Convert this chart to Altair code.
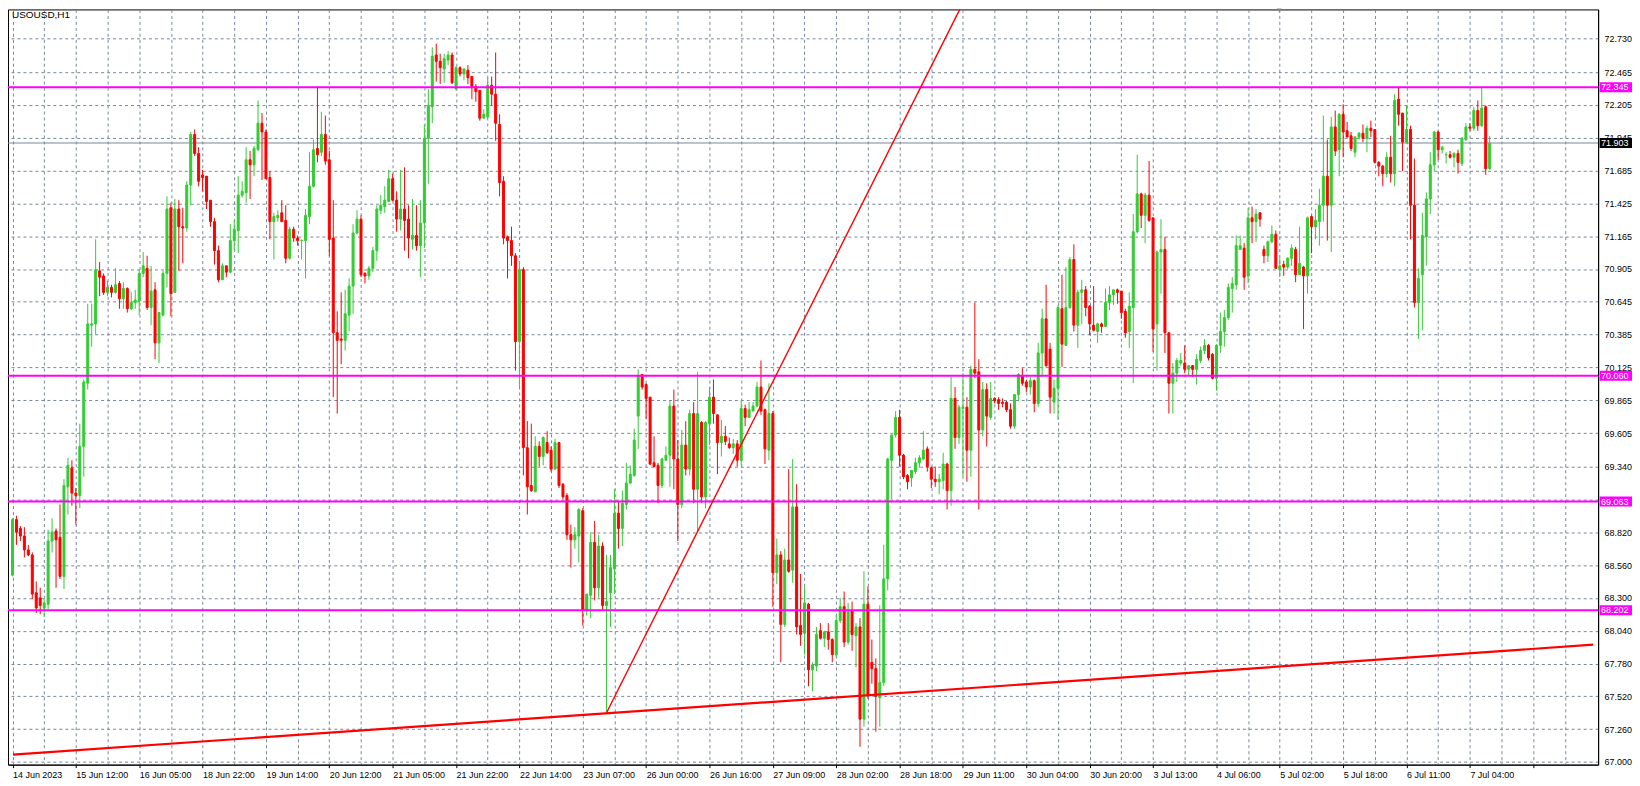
import json
import altair as alt
import pandas as pd

# ---------------- data (USOUSD, H1) ----------------
opens = [
68.48,68.92,68.85,68.79,68.68,68.64,68.34,68.30,68.22,68.25,
68.75,68.83,68.78,68.47,69.18,69.33,69.13,69.11,69.50,70.00,
70.46,70.47,70.89,70.85,70.72,70.76,70.72,70.79,70.67,70.75,
70.59,70.64,70.65,70.87,70.91,70.60,70.74,70.32,70.54,70.87,
71.39,70.72,71.38,71.24,71.23,71.57,71.97,71.82,71.65,71.64,
71.45,71.28,71.05,70.82,70.93,70.88,71.13,71.21,71.49,71.51,
71.77,71.73,71.85,72.06,71.99,71.63,71.28,71.31,71.35,71.29,
70.99,71.22,71.15,71.13,71.13,71.32,71.56,71.86,71.83,71.97,
71.77,71.15,70.40,70.35,70.34,70.54,70.77,71.19,71.30,70.87,
70.85,70.91,71.05,71.37,71.40,71.44,71.62,71.45,71.30,71.38,
71.30,71.14,71.17,71.09,71.27,71.94,72.19,72.60,72.55,72.49,
72.56,72.60,72.33,72.50,72.45,72.48,72.43,72.35,72.32,72.10,
72.11,72.36,72.29,72.05,71.60,71.16,71.13,71.01,70.33,70.90,
69.49,69.19,69.14,69.50,69.42,69.53,69.47,69.32,69.53,69.20,
69.11,68.80,68.76,68.79,68.99,68.20,68.32,68.74,68.38,68.71,
68.24,68.34,68.53,68.97,68.85,69.04,69.21,69.27,69.74,70.07,
69.99,69.89,69.37,69.35,69.19,69.39,69.43,69.82,69.40,69.04,
69.51,69.32,69.76,69.16,69.69,69.10,69.68,69.89,69.75,69.53,
69.58,69.52,69.49,69.52,69.39,69.80,69.73,69.78,69.82,69.97,
69.79,69.47,69.76,68.50,68.64,68.09,68.60,68.52,69.02,68.08,
68.02,68.25,67.73,67.76,68.04,67.98,68.03,67.97,67.85,68.12,
68.23,67.95,68.20,68.00,68.07,67.34,68.25,67.79,67.74,67.51,
67.63,68.45,69.39,69.59,69.73,69.43,69.27,69.25,69.30,69.37,
69.40,69.48,69.33,69.24,69.22,69.23,69.36,69.15,69.88,69.57,
69.80,69.81,69.47,70.11,70.09,69.63,69.95,69.73,69.88,69.87,
69.85,69.85,69.79,69.66,69.91,70.06,70.01,69.97,70.02,69.84,
70.24,70.51,70.27,69.85,69.96,70.59,70.30,70.60,70.98,70.46,
70.72,70.74,70.61,70.46,70.41,70.47,70.45,70.64,70.70,70.74,
70.73,70.57,70.41,70.60,71.20,71.50,71.33,71.49,71.31,70.47,
71.04,71.06,70.40,70.00,70.08,70.16,70.16,70.11,70.14,70.11,
70.18,70.26,70.30,70.23,70.04,70.30,70.41,70.52,70.75,70.78,
71.06,71.07,70.85,71.31,71.28,71.35,71.06,71.01,71.12,71.18,
70.90,70.94,70.92,70.99,71.06,70.86,70.92,70.85,71.32,71.24,
71.28,71.41,71.64,71.41,72.03,71.85,72.13,72.00,71.96,71.83,
71.95,71.98,71.94,72.02,72.01,71.75,71.72,71.66,71.79,71.66,
72.25,72.14,71.91,72.01,71.41,70.64,70.86,71.16,71.46,71.73,
71.99,71.85,71.81,71.81,71.79,71.82,71.74,71.93,72.03,72.02,
72.16,72.04,72.19,71.70]

highs = [
68.93,68.95,68.87,68.86,68.72,68.66,68.43,68.38,68.29,68.84,
68.93,68.85,69.04,69.24,69.41,69.39,69.17,69.68,70.03,70.63,
70.63,71.14,70.96,70.87,70.81,70.78,70.91,70.81,70.80,70.76,
70.72,70.74,70.90,71.04,71.01,70.93,70.80,70.56,70.89,71.48,
71.43,71.46,71.45,71.39,71.60,71.99,72.01,71.87,71.69,71.64,
71.45,71.31,71.09,70.95,70.93,71.26,71.29,71.64,71.60,71.87,
71.84,71.88,72.24,72.14,72.01,71.68,71.35,71.37,71.45,71.41,
71.24,71.24,71.17,71.14,71.38,71.83,71.93,72.35,72.15,72.12,
71.84,71.45,70.57,70.72,70.74,70.83,71.26,71.37,71.33,70.88,
70.93,71.08,71.41,71.49,71.56,71.69,71.66,71.52,71.69,71.71,
71.41,71.46,71.41,71.45,72.05,72.33,72.66,72.69,72.61,72.61,
72.63,72.62,72.51,72.51,72.49,72.52,72.43,72.37,72.32,72.17,
72.42,72.43,72.62,72.13,71.64,71.17,71.24,71.03,70.95,70.92,
69.70,69.68,69.58,69.54,69.58,69.62,69.50,69.56,69.53,69.21,
69.13,68.88,68.86,69.01,69.01,68.33,68.82,68.91,68.80,68.74,
68.64,68.64,69.16,69.07,69.15,69.37,69.35,69.64,70.11,70.07,
70.00,69.89,69.58,69.37,69.41,69.50,69.86,69.95,69.55,69.63,
69.70,69.79,69.85,70.09,69.70,69.70,69.97,70.03,69.75,69.71,
69.66,69.57,69.56,69.55,69.86,69.83,69.85,69.85,70.01,70.18,
69.80,70.00,69.78,68.77,68.67,68.69,69.32,69.40,69.20,68.49,
68.39,68.26,67.79,68.07,68.10,68.04,68.10,67.98,68.16,68.30,
68.35,68.26,68.27,68.10,68.14,68.51,68.39,67.97,67.82,68.24,
68.72,69.41,69.59,69.78,69.79,69.44,69.28,69.31,69.41,69.43,
69.62,69.50,69.34,69.34,69.28,69.45,69.37,70.05,69.97,69.83,
70.08,69.89,70.14,70.64,70.19,70.01,70.00,70.01,69.89,69.89,
69.88,69.86,69.84,69.91,70.08,70.12,70.03,70.05,70.03,70.32,
70.59,70.78,70.32,70.03,70.62,70.86,70.92,71.00,71.10,70.74,
70.82,70.77,70.62,70.77,70.48,70.48,70.75,70.77,70.74,70.75,
70.73,70.59,70.72,71.34,71.81,71.51,71.51,71.76,71.31,71.05,
71.30,71.16,70.40,70.16,70.20,70.24,70.30,70.14,70.14,70.23,
70.29,70.35,70.31,70.24,70.31,70.56,70.58,70.79,70.84,71.17,
71.17,71.11,71.39,71.40,71.38,71.35,71.09,71.13,71.25,71.21,
70.99,70.97,71.00,71.10,71.08,71.24,70.93,71.32,71.33,71.38,
71.54,72.12,71.93,72.11,72.16,72.14,72.21,72.07,71.99,71.96,
71.99,72.05,72.04,72.08,72.01,71.76,71.73,71.83,71.96,72.29,
72.34,72.14,72.20,72.04,71.78,70.91,71.35,71.51,71.83,72.00,
72.00,71.88,71.83,71.84,71.83,71.85,71.95,72.06,72.06,72.19,
72.24,72.35,72.20,71.96]

lows = [
68.47,68.72,68.75,68.62,68.63,68.29,68.18,68.17,68.15,68.21,
68.66,68.38,68.45,68.37,68.96,69.03,68.88,69.01,69.26,69.95,
70.29,70.39,70.69,70.70,70.69,70.68,70.71,70.59,70.59,70.56,
70.58,70.59,70.54,70.84,70.58,70.46,70.19,70.16,70.53,70.76,
70.53,70.72,70.89,70.95,71.20,71.41,71.80,71.56,71.52,71.38,
71.24,70.94,70.80,70.82,70.84,70.87,71.05,71.03,71.47,71.43,
71.46,71.64,71.84,71.61,71.62,71.14,70.98,71.28,71.28,70.95,
70.98,71.12,71.09,70.98,70.83,71.26,71.55,71.75,71.80,71.73,
71.01,69.89,69.76,70.15,70.26,70.41,70.55,71.18,70.84,70.79,
70.82,70.88,70.97,71.34,71.35,71.44,71.44,71.20,71.21,71.05,
70.99,71.06,71.05,70.84,71.07,71.58,72.06,72.39,72.37,72.38,
72.52,72.37,72.32,72.43,72.40,72.37,72.25,72.23,72.08,72.10,
72.10,72.20,71.92,71.48,71.10,70.83,70.93,70.10,69.97,69.27,
68.96,69.14,69.14,69.34,69.35,69.44,69.30,69.32,69.17,69.08,
68.76,68.54,68.69,68.58,68.08,68.16,68.14,68.28,68.30,68.20,
67.39,68.07,68.33,68.69,68.71,69.00,69.20,69.26,69.48,69.95,
69.72,69.35,69.34,69.05,69.17,69.39,69.18,69.16,68.75,69.01,
69.27,69.27,69.05,68.82,69.05,69.01,69.51,69.68,69.28,69.42,
69.51,69.48,69.44,69.34,69.35,69.66,69.73,69.78,69.81,69.75,
69.36,69.39,68.23,68.41,67.79,68.07,68.50,68.42,68.01,67.92,
67.85,67.60,67.56,67.72,67.97,67.91,67.89,67.79,67.83,68.10,
67.91,67.93,67.88,67.75,67.12,67.28,67.50,67.62,67.24,67.28,
67.60,68.36,69.08,69.57,69.34,69.24,69.16,69.18,69.28,69.33,
69.39,69.30,69.17,69.18,69.12,69.16,69.00,69.03,69.48,69.52,
69.26,69.22,69.26,70.04,69.00,69.58,69.50,69.71,69.84,69.79,
69.81,69.77,69.64,69.64,69.86,69.98,69.93,69.91,69.77,69.81,
70.05,70.13,69.76,69.76,69.71,70.13,70.30,70.59,70.41,70.28,
70.47,70.53,70.38,70.41,70.32,70.40,70.45,70.58,70.62,70.63,
70.51,70.36,70.28,70.00,71.19,71.23,71.11,71.28,70.25,70.10,
70.71,70.24,69.76,69.76,70.01,70.14,70.08,70.06,70.05,69.99,
70.16,70.23,70.18,70.03,69.94,70.24,70.29,70.50,70.56,70.74,
71.06,70.74,70.79,71.11,71.12,71.24,70.95,70.96,71.11,70.91,
70.84,70.85,70.90,70.93,70.80,70.86,70.43,70.71,71.03,71.14,
71.09,71.28,71.13,71.04,71.80,71.64,71.79,71.95,71.84,71.79,
71.93,71.91,71.83,71.95,71.74,71.64,71.56,71.63,71.59,71.56,
72.04,71.68,71.90,71.14,70.60,70.35,70.42,70.93,71.34,71.68,
71.77,71.82,71.74,71.78,71.71,71.66,71.72,71.92,72.00,72.00,
72.00,72.03,71.65,71.69]

closes = [
68.92,68.82,68.79,68.68,68.64,68.33,68.22,68.24,68.26,68.75,
68.82,68.76,68.47,69.19,69.35,69.13,69.11,69.50,70.01,70.47,
70.47,70.90,70.84,70.72,70.76,70.72,70.78,70.67,70.75,70.59,
70.64,70.66,70.87,70.93,70.60,70.73,70.32,70.56,70.87,71.38,
70.71,71.38,71.24,71.23,71.57,71.97,71.82,71.60,71.63,71.44,
71.28,71.05,70.82,70.93,70.88,71.13,71.22,71.49,71.52,71.77,
71.73,71.86,72.06,71.99,71.62,71.28,71.32,71.33,71.28,70.99,
71.22,71.15,71.13,71.13,71.33,71.56,71.85,71.81,71.97,71.76,
71.14,70.40,70.34,70.34,70.55,70.77,71.19,71.30,70.86,70.85,
70.91,71.05,71.38,71.41,71.45,71.62,71.45,71.30,71.38,71.29,
71.15,71.17,71.09,71.27,71.94,72.20,72.59,72.55,72.50,72.57,
72.60,72.38,72.50,72.45,72.49,72.42,72.35,72.31,72.10,72.13,
72.36,72.29,72.06,71.59,71.15,71.13,71.01,70.33,70.90,69.49,
69.18,69.15,69.50,69.42,69.57,69.45,69.32,69.53,69.19,69.10,
68.80,68.76,68.80,69.00,68.20,68.33,68.74,68.38,68.71,68.24,
68.27,68.54,68.97,68.85,69.05,69.21,69.28,69.55,70.06,69.97,
69.88,69.36,69.34,69.19,69.40,69.43,69.82,69.40,69.04,69.51,
69.32,69.76,69.16,69.76,69.10,69.69,69.89,69.76,69.53,69.58,
69.54,69.49,69.52,69.39,69.80,69.73,69.79,69.82,69.97,69.78,
69.48,69.76,68.50,68.64,68.09,68.60,68.51,69.02,68.07,68.01,
68.26,67.73,67.77,68.01,67.98,68.03,67.97,67.85,68.12,68.23,
67.95,68.20,68.01,68.07,67.34,68.25,67.53,67.74,67.52,67.63,
68.45,69.40,69.59,69.73,69.43,69.26,69.22,69.31,69.37,69.41,
69.47,69.34,69.24,69.22,69.24,69.36,69.15,69.88,69.57,69.81,
69.81,69.47,70.11,70.08,69.63,69.95,69.74,69.88,69.86,69.84,
69.84,69.79,69.66,69.91,70.07,70.00,69.97,70.02,69.84,70.24,
70.51,70.14,69.89,69.96,70.60,70.31,70.60,70.98,70.46,70.72,
70.74,70.60,70.47,70.42,70.47,70.45,70.64,70.70,70.74,70.72,
70.56,70.40,70.61,71.20,71.50,71.33,71.49,71.29,70.43,71.04,
71.06,70.40,70.00,70.08,70.18,70.18,70.11,70.14,70.11,70.19,
70.26,70.30,70.20,70.04,70.30,70.41,70.52,70.76,70.79,71.09,
71.09,70.84,71.31,71.28,71.34,71.30,71.01,71.12,71.18,70.91,
70.93,70.92,70.99,71.07,70.86,70.95,70.85,71.31,71.24,71.29,
71.41,71.64,71.41,72.03,71.84,72.13,71.99,71.95,71.86,71.95,
71.98,71.94,72.02,72.00,71.75,71.72,71.66,71.79,71.66,72.24,
72.13,71.91,72.01,71.41,70.64,70.83,71.17,71.46,71.73,71.99,
71.85,71.87,71.81,71.79,71.82,71.75,71.94,72.03,72.02,72.16,
72.04,72.18,71.70,71.90]

x_labels = ["14 Jun 2023", "15 Jun 12:00", "16 Jun 05:00", "18 Jun 22:00",
            "19 Jun 14:00", "20 Jun 12:00", "21 Jun 05:00", "21 Jun 22:00",
            "22 Jun 14:00", "23 Jun 07:00", "26 Jun 00:00", "26 Jun 16:00",
            "27 Jun 09:00", "28 Jun 02:00", "28 Jun 18:00", "29 Jun 11:00",
            "30 Jun 04:00", "30 Jun 20:00", "3 Jul 13:00", "4 Jul 06:00",
            "5 Jul 02:00", "5 Jul 18:00", "6 Jul 11:00", "7 Jul 04:00"]

price_ticks = [67.000, 67.260, 67.520, 67.780, 68.040, 68.300, 68.560, 68.820,
               69.080, 69.340, 69.605, 69.865, 70.125, 70.385, 70.645, 70.905,
               71.165, 71.425, 71.685, 71.945, 72.205, 72.465, 72.730]
hidden_tick = 69.080   # its label sits under the 69.063 level tag

level_prices = [72.345, 70.060, 69.063, 68.202]
level_texts = ["72.345", "70.060", "69.063", "68.202"]
current_price = 71.903
current_text = "71.903"

# trend lines: anchor points (bar index, price)
trend_long_x = [0.125, 399.125]
trend_long_y = [67.058, 67.929]
trend_steep_x = [150.0, 239.2]
trend_steep_y = [67.39, 72.961]

symbol_title = "USOUSD,H1"

# ---------------- chart ----------------
n = len(closes)
df = pd.DataFrame({"i": list(range(n)), "o": opens, "h": highs, "l": lows, "c": closes})
df["dir"] = ["up" if c >= o else "down" for o, c in zip(opens, closes)]

W, H = 1596, 758
FONT = "Liberation Sans"
GRID = "#778899"
xs = alt.Scale(domain=[0.125, 399.125], nice=False, zero=False)
ys = alt.Scale(domain=[66.979, 72.961], nice=False, zero=False)
cscale = alt.Scale(domain=["up", "down"], range=["#32CD32", "#FF0000"])

label_js = json.dumps(x_labels)
x_axis = alt.Axis(
    values=list(range(0, 400, 8)), grid=True, gridColor=GRID, gridDash=[3, 3], gridWidth=1,
    labelExpr=f"datum.value % 16 === 0 ? ({label_js}[datum.value / 16] || '') : ''",
    labelAlign="left", labelBaseline="top", labelPadding=3, labelFlush=False, labelOverlap=False,
    labelFont=FONT, labelFontSize=9, labelColor="black",
    tickSize=3, tickColor="black",
    tickOpacity={"condition": {"test": "datum.value % 16 === 0", "value": 1}, "value": 0},
    domainColor="black", title=None)
y_axis = alt.Axis(
    orient="right", values=price_ticks, grid=True, gridColor=GRID,
    labelExpr=f"abs(datum.value - {hidden_tick}) < 0.0005 ? '' : format(datum.value, '.3f')",
    gridDash=[3, 3], gridWidth=1, tickSize=0, labelPadding=6, labelAlign="left",
    labelBaseline="middle", labelFont=FONT, labelFontSize=9, labelColor="black",
    labelOverlap=False, labelFlush=False, labelBound=False, domainColor="black", title=None)

X = lambda f: alt.X(f, scale=xs, axis=x_axis)
Y = lambda f: alt.Y(f, scale=ys, axis=y_axis)

cur_df = pd.DataFrame({"p": [current_price]})
current_line = alt.Chart(cur_df).mark_rule(color=GRID, strokeWidth=1).encode(y=Y("p:Q"))

wick = alt.Chart(df).mark_rule(strokeWidth=1, clip=True).encode(
    x=X("i:Q"), y=Y("l:Q"), y2="h:Q",
    color=alt.Color("dir:N", scale=cscale, legend=None))

body = alt.Chart(df).mark_bar(width=2, strokeWidth=1, clip=True).encode(
    x=X("i:Q"), y=Y("o:Q"), y2="c:Q",
    color=alt.Color("dir:N", scale=cscale, legend=None),
    stroke=alt.Stroke("dir:N", scale=cscale, legend=None))

lev_df = pd.DataFrame({"p": level_prices})
levels = alt.Chart(lev_df).mark_rule(color="#FF00FF", strokeWidth=2).encode(y=Y("p:Q"))

trend_df = pd.DataFrame({
    "x": trend_long_x + trend_steep_x,
    "y": trend_long_y + trend_steep_y,
    "line": ["long", "long", "steep", "steep"]})
trend = alt.Chart(trend_df).mark_line(color="#FF0000", clip=True).encode(
    x=X("x:Q"), y=Y("y:Q"), detail="line:N",
    strokeWidth=alt.StrokeWidth("line:N", scale=alt.Scale(domain=["long", "steep"], range=[2.2, 1.4]), legend=None))

tags_df = pd.DataFrame({
    "p": level_prices + [current_price],
    "label": level_texts + [current_text],
    "fill": ["#FF00FF"] * len(level_prices) + ["#000000"]})
tag_rect = alt.Chart(tags_df).mark_rect(yOffset=-5, y2Offset=5).encode(
    x=alt.value(W + 1.5), x2=alt.value(W + 34),
    y=Y("p:Q"), y2="p:Q",
    color=alt.Color("fill:N", scale=None))
tag_text = alt.Chart(tags_df).mark_text(
    align="left", baseline="middle", font=FONT, fontSize=9, color="white").encode(
    x=alt.value(W + 3), y=Y("p:Q"), text="label:N")

title_df = pd.DataFrame({"t": [symbol_title]})
title = alt.Chart(title_df).mark_text(
    align="left", baseline="middle", font=FONT, fontSize=10, color="black").encode(
    x=alt.value(4), y=alt.value(6), text="t:N")

marker = alt.Chart(title_df).mark_point(
    shape="triangle-down", filled=True, size=22, color=GRID, opacity=1).encode(
    x=alt.value(1276), y=alt.value(1))

chart = alt.layer(current_line, wick, body, levels, trend, tag_rect, tag_text, title, marker).properties(
    width=W, height=H,
    padding={"left": 0, "top": 0, "right": 34, "bottom": 18},
    autosize=alt.AutoSizeParams(type="none"),
    background="white",
).configure_view(stroke="black", strokeWidth=1).configure_axis(labelOverlap=False)

chart.save("out.html", embed_options={"renderer": "svg", "actions": False})
